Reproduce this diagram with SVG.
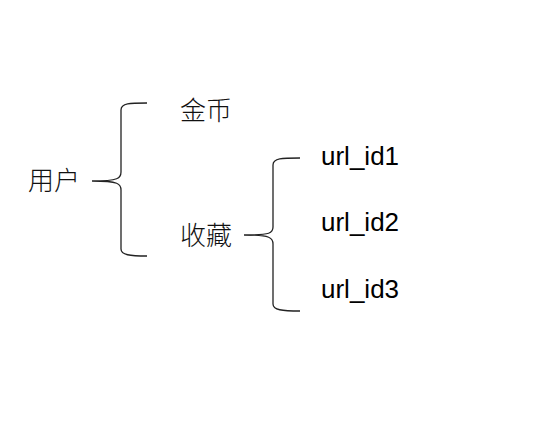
<svg xmlns="http://www.w3.org/2000/svg" width="536" height="437" viewBox="0 0 536 437">
<style>
.cjk{font-family:"Noto Sans CJK SC","Liberation Sans",sans-serif;font-size:26px;font-weight:300;fill:#111}
.lat{font-family:"Liberation Sans",Arial,sans-serif;font-size:26px;fill:#000}
.br{fill:none;stroke:#222;stroke-width:1.3}
</style>
<rect width="536" height="437" fill="#fff"/>
<g id="connectors">
<path class="br" d="M147,103 C130,103 121,103 121,110 L121,172 C121,178 119,181 92,181 M92,181 C119,181 121,184 121,190 L121,249 C121,255 130,256 147,256"/>
<path class="br" d="M300,158 C282,158 273,158 273,165 L273,227 C273,233 271,235 244,235 M244,235 C271,235 273,238 273,244 L273,304 C273,310 282,311 300,311"/>
</g>
<g id="user"><text class="cjk" x="28" y="190">用户</text></g>
<g id="coin"><text class="cjk" x="180" y="120">金币</text></g>
<g id="fav"><text class="cjk" x="180" y="245">收藏</text></g>
<g id="url1"><text class="lat" x="321" y="165">url_id1</text></g>
<g id="url2"><text class="lat" x="321" y="231">url_id2</text></g>
<g id="url3"><text class="lat" x="321" y="298">url_id3</text></g>
</svg>
